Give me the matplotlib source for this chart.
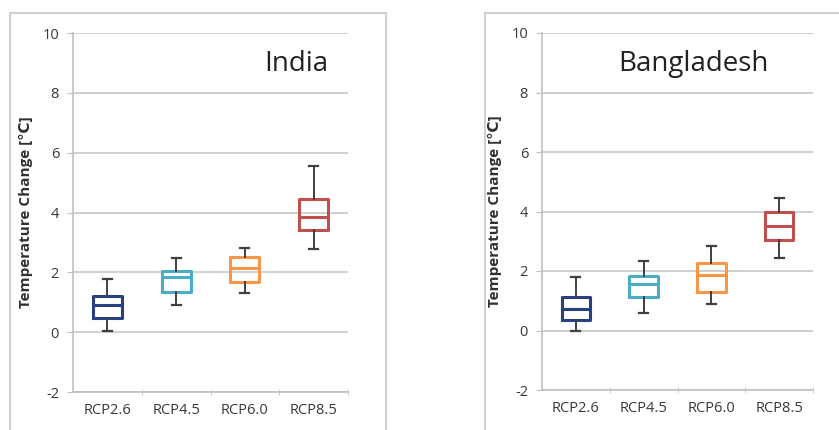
import matplotlib.pyplot as plt
from matplotlib.patches import Rectangle

plt.rcParams['font.family'] = ['Open Sans', 'DejaVu Sans']
plt.rcParams['axes.unicode_minus'] = False

# ── Dados ───────────────────────────────────────────────────────────────
cenarios = ['RCP2.6', 'RCP4.5', 'RCP6.0', 'RCP8.5']
cores = ['#27407f', '#4bacc6', '#f79646', '#c0504d']

india_min = [0.05, 0.90, 1.32, 2.77]
india_q1 = [0.47, 1.35, 1.69, 3.42]
india_med = [0.90, 1.83, 2.14, 3.85]
india_q3 = [1.20, 2.06, 2.50, 4.45]
india_max = [1.78, 2.47, 2.81, 5.55]

bang_min = [-0.03, 0.58, 0.90, 2.44]
bang_q1 = [0.36, 1.14, 1.29, 3.05]
bang_med = [0.73, 1.57, 1.85, 3.50]
bang_q3 = [1.12, 1.83, 2.27, 4.00]
bang_max = [1.80, 2.32, 2.83, 4.47]


def montar_stats(vmin, q1, med, q3, vmax):
    return [dict(whislo=a, q1=b, med=c, q3=d, whishi=e, fliers=[])
            for a, b, c, d, e in zip(vmin, q1, med, q3, vmax)]


def desenhar(ax, stats, titulo, tx):
    for i, (st, cor) in enumerate(zip(stats, cores)):
        ax.bxp([st], positions=[i + 1], widths=0.42, showfliers=False,
               patch_artist=False,
               boxprops=dict(color=cor, lw=2.2),
               medianprops=dict(color=cor, lw=2.2),
               whiskerprops=dict(color='#404040', lw=1.4),
               capprops=dict(color='#404040', lw=1.6),
               capwidths=0.13, zorder=3)
    ax.set_xlim(0.5, 4.5)
    ax.set_ylim(-2, 10)
    ax.set_yticks(range(-2, 11, 2))
    ax.set_xticks([1, 2, 3, 4])
    ax.set_xticklabels(cenarios)
    ax.set_xticks([1.5, 2.5, 3.5, 4.5], minor=True)
    ax.tick_params(axis='x', which='major', length=0, pad=8,
                   labelsize=10.5, labelcolor='#383838')
    ax.tick_params(axis='x', which='minor', length=4, color='#c0c0c0',
                   direction='inout')
    ax.tick_params(axis='y', length=4, color='#c0c0c0', pad=6,
                   labelsize=10.5, labelcolor='#383838')
    ax.grid(axis='y', color='#c8c8c8', lw=1.2, zorder=0)
    for lado in ['top', 'right']:
        ax.spines[lado].set_visible(False)
    for lado in ['left', 'bottom']:
        ax.spines[lado].set_color('#c0c0c0')
        ax.spines[lado].set_linewidth(1.2)
    ax.set_ylabel('Temperature Change [℃]', fontsize=11,
                  fontweight='bold', color='#303030', labelpad=7)
    ax.text(tx, 8.95, titulo, fontsize=20, color='#222222',
            ha='center', va='center', transform=ax.transData)


fig = plt.figure(figsize=(8.39, 4.30), dpi=100)

# molduras das áreas do gráfico
fig.patches.append(Rectangle((10 / 839, -0.05), (386 - 10) / 839, 1.05 - 13 / 430,
                             transform=fig.transFigure, fill=False,
                             ec='#d0d0d0', lw=1.5))
fig.patches.append(Rectangle((485 / 839, -0.05), 0.5, 1.05 - 13 / 430,
                             transform=fig.transFigure, fill=False,
                             ec='#d0d0d0', lw=1.5))

ax1 = fig.add_axes([73 / 839, 1 - 392 / 430, 275 / 839, 359 / 430])
ax2 = fig.add_axes([542 / 839, 1 - 390 / 430, 271 / 839, 357 / 430])

desenhar(ax1, montar_stats(india_min, india_q1, india_med, india_q3, india_max),
         'India', 3.75)
desenhar(ax2, montar_stats(bang_min, bang_q1, bang_med, bang_q3, bang_max),
         'Bangladesh', 2.73)

fig.savefig('out.png', dpi=100)
